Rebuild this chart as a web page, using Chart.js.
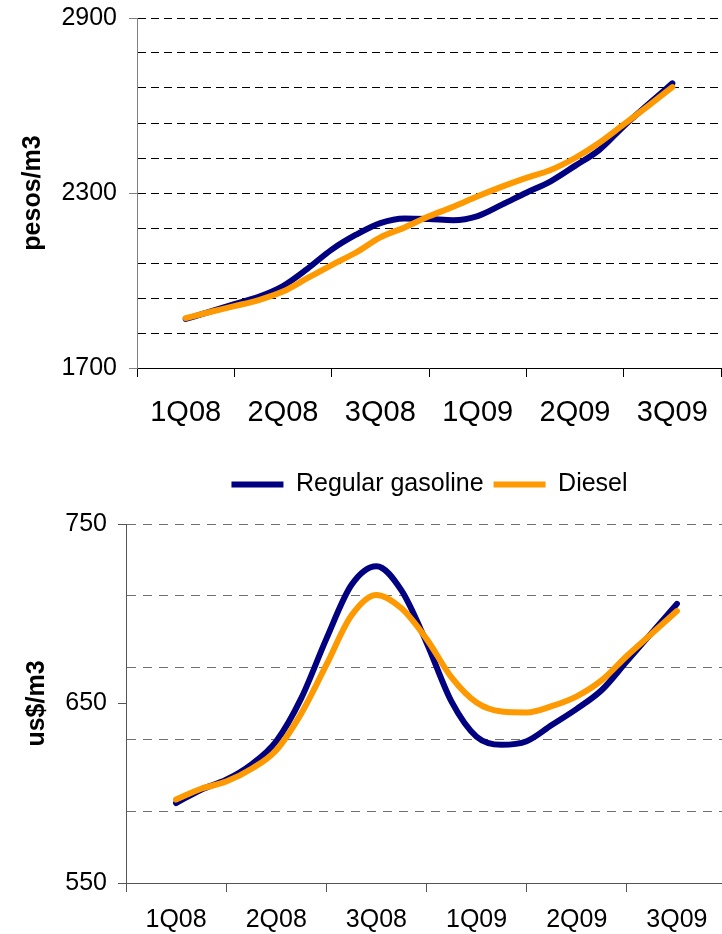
<!DOCTYPE html>
<html>
<head>
<meta charset="utf-8">
<script src="https://cdn.jsdelivr.net/npm/chart.js@4.4.0/dist/chart.umd.min.js"></script>
<style>
  html, body { margin: 0; padding: 0; background: #fff; overflow: hidden; }
  #wrap { position: relative; width: 722px; height: 934px; overflow: hidden; }
  .box { position: absolute; left: 0; width: 740px; }
  #top { top: 0; height: 440px; }
  #bottom { top: 440px; height: 494px; }
</style>
</head>
<body>
<div id="wrap">
  <div class="box" id="top"><canvas id="pesosChart"></canvas></div>
  <div class="box" id="bottom"><canvas id="usdChart"></canvas></div>
</div>
<script>
var quarterLabels = ['1Q08', '2Q08', '3Q08', '1Q09', '2Q09', '3Q09'];
// one reading every quarter of a label slot, first and last on the label centres
var slotPos = [0.5, 0.75, 1, 1.25, 1.5, 1.75, 2, 2.25, 2.5, 2.75, 3,
               3.25, 3.5, 3.75, 4, 4.25, 4.5, 4.75, 5, 5.25, 5.5];

var gasolinePesos = [1868, 1893, 1919, 1944, 1981, 2040, 2106, 2157, 2197, 2213, 2211,
                     2207, 2221, 2260, 2301, 2340, 2393, 2448, 2529, 2603, 2676];
var dieselPesos = [1871, 1892, 1912, 1933, 1962, 2008, 2053, 2096, 2148, 2182, 2220,
                   2253, 2289, 2322, 2352, 2379, 2420, 2472, 2535, 2598, 2663];

var gasolineUsd = [594.5, 602, 607.5, 616, 629, 653, 686, 716, 726.5, 713, 684,
                   651, 631.5, 627, 629, 638, 647, 657.5, 673.5, 689.5, 705.5];
var dieselUsd = [596.5, 602.5, 606.5, 613.5, 624, 644.5, 671.5, 699, 710.5, 703, 686,
                 664.5, 650.5, 645.5, 645, 648.5, 654, 663, 676.5, 689, 701.5];

var pesosTicks = [1700, 1820, 1940, 2060, 2180, 2300, 2420, 2540, 2660, 2780, 2900];
var pesosLabels = [1700, 2300, 2900];
var usdTicks = [550, 590, 630, 650, 670, 710, 750];
var usdLabels = [550, 650, 750];
var usdGrid = [590, 630, 670, 710, 750];

var NAVY = '#000080';
var ORANGE = '#FF9900';
var CLEAR = 'rgba(0,0,0,0)';

Chart.defaults.font.family = '"Liberation Sans", Arial, sans-serif';
Chart.defaults.color = '#000';

function pairs(values) {
  return slotPos.map(function (x, i) { return { x: x, y: values[i] }; });
}

function lineSets(gas, diesel) {
  return [{
    label: 'Regular gasoline',
    data: pairs(gas),
    borderColor: NAVY,
    backgroundColor: NAVY,
    borderWidth: 6,
    borderCapStyle: 'round',
    pointRadius: 0,
    cubicInterpolationMode: 'monotone',
    order: 2
  }, {
    label: 'Diesel',
    data: pairs(diesel),
    borderColor: ORANGE,
    backgroundColor: ORANGE,
    borderWidth: 6,
    borderCapStyle: 'round',
    pointRadius: 0,
    cubicInterpolationMode: 'monotone',
    order: 1
  }];
}

function quarterAxis(fontSize, pad, lineColor, height) {
  return {
    type: 'linear',
    min: 0,
    max: 6,
    afterFit: function (s) { s.height = height; },
    ticks: {
      stepSize: 0.5,
      autoSkip: false,
      maxRotation: 0,
      padding: pad,
      font: { size: fontSize },
      callback: function (v) {
        return (v % 1 === 0.5) ? quarterLabels[Math.floor(v)] : '';
      }
    },
    grid: {
      drawOnChartArea: false,
      tickLength: 9,
      tickColor: function (c) {
        return (c.tick && c.tick.value % 1 === 0) ? lineColor : CLEAR;
      }
    },
    border: { color: lineColor, width: 1 }
  };
}

// value axes: fixed width, no automatic overhang padding
function fixWidth(w) {
  return function (s) {
    s.width = w;
    s.paddingTop = 0;
    s.paddingBottom = 0;
  };
}

// extra room under the legend, and legend moved right like the original
var legendPlace = {
  id: 'legendPlace',
  beforeInit: function (chart) {
    var fit = chart.legend.fit;
    chart.legend.fit = function () {
      fit.call(this);
      this.height += 17;
    };
  },
  afterLayout: function (chart) {
    chart.legend.left += 63;
    chart.legend.right += 63;
  }
};

// top: pesos per m3
new Chart(document.getElementById('pesosChart'), {
  type: 'line',
  data: { datasets: lineSets(gasolinePesos, dieselPesos) },
  options: {
    responsive: true,
    maintainAspectRatio: false,
    animation: false,
    layout: { padding: { top: 18, right: 15, bottom: 9, left: 0 } },
    plugins: { legend: { display: false }, tooltip: { enabled: false } },
    scales: {
      x: quarterAxis(29, 19, '#000', 63),
      y: {
        min: 1700,
        max: 2900,
        afterBuildTicks: function (s) {
          s.ticks = pesosTicks.map(function (v) { return { value: v }; });
        },
        afterFit: fixWidth(137),
        ticks: {
          autoSkip: false,
          padding: 12,
          font: { size: 25 },
          callback: function (v) { return pesosLabels.indexOf(v) >= 0 ? String(v) : ''; }
        },
        grid: {
          tickLength: 8,
          color: function (c) { return (c.tick && c.tick.value > 1700) ? '#000' : CLEAR; },
          tickColor: function (c) { return (c.tick && pesosLabels.indexOf(c.tick.value) >= 0) ? '#808080' : CLEAR; }
        },
        border: { color: '#808080', dash: [8, 5] },
        title: {
          display: true,
          text: 'pesos/m3',
          font: { size: 25, weight: 'bold' },
          padding: { top: 18, bottom: 0 }
        }
      }
    }
  }
});

// bottom: dollars per m3
new Chart(document.getElementById('usdChart'), {
  type: 'line',
  data: { datasets: lineSets(gasolineUsd, dieselUsd) },
  plugins: [legendPlace],
  options: {
    responsive: true,
    maintainAspectRatio: false,
    animation: false,
    layout: { padding: { top: 22, right: 7, bottom: 0, left: 0 } },
    plugins: {
      tooltip: { enabled: false },
      legend: {
        position: 'top',
        labels: {
          usePointStyle: true,
          pointStyle: 'line',
          pointStyleWidth: 52,
          boxHeight: 6,
          padding: 10,
          font: { size: 25 },
          sort: function (a, b) { return a.datasetIndex - b.datasetIndex; }
        }
      }
    },
    scales: {
      x: quarterAxis(25, 13, '#555', 51),
      y: {
        min: 550,
        max: 750,
        afterBuildTicks: function (s) {
          s.ticks = usdTicks.map(function (v) { return { value: v }; });
        },
        afterFit: fixWidth(126),
        ticks: {
          autoSkip: false,
          padding: 11,
          font: { size: 25 },
          callback: function (v) { return usdLabels.indexOf(v) >= 0 ? String(v) : ''; }
        },
        grid: {
          tickLength: 8,
          color: function (c) { return (c.tick && usdGrid.indexOf(c.tick.value) >= 0) ? '#707070' : CLEAR; },
          tickColor: function (c) { return (c.tick && usdLabels.indexOf(c.tick.value) >= 0) ? '#555' : CLEAR; }
        },
        border: { color: '#555', dash: [9, 7] },
        title: {
          display: true,
          text: 'us$/m3',
          font: { size: 25, weight: 'bold' },
          padding: { top: 22, bottom: 0 }
        }
      }
    }
  }
});
</script>
</body>
</html>
